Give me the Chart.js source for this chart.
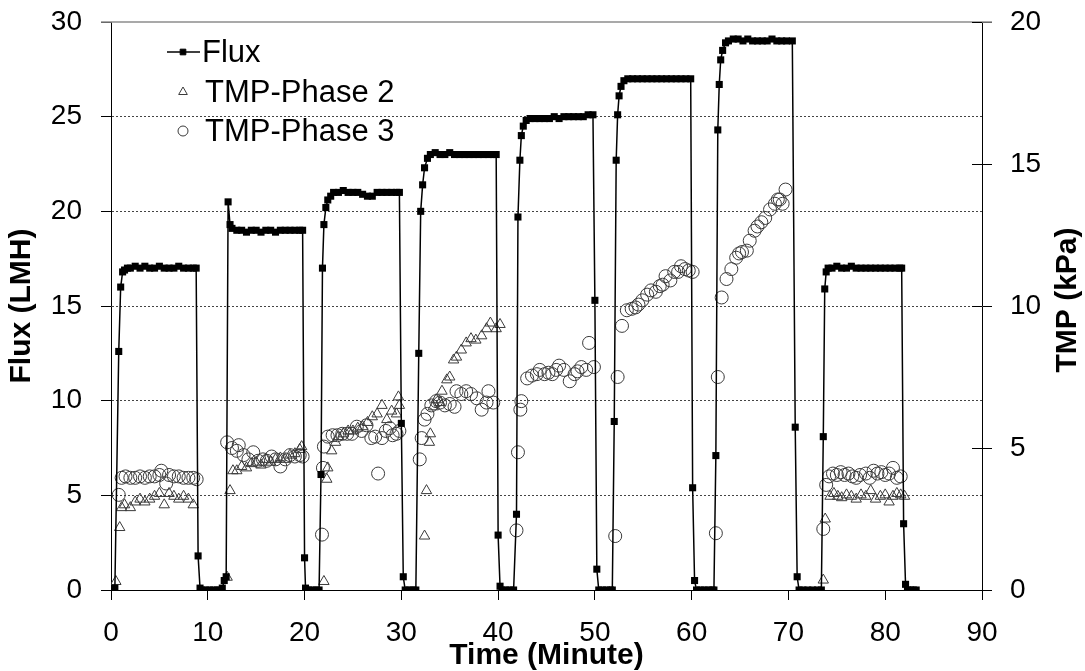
<!DOCTYPE html>
<html>
<head>
<meta charset="utf-8">
<script src="https://cdn.jsdelivr.net/npm/chart.js@4"></script>
<style>
body{margin:0;background:#fff;}
canvas{display:block;}
</style>
</head>
<body>
<canvas id="chart" width="1085" height="671"></canvas>
<script>
// Flux (LMH), cycle by cycle
const fluxTime = [
0,0.2,0.4, 0.8,1.0,1.2,1.4,1.7,2.0,2.5,3.0,3.5,4.0,4.5,5.0,5.5,6.0,6.5,7.0,7.5,8.0,8.5,8.8,
9.0,9.2,9.4,9.8,10.2,10.6,11.0,11.3,11.5,11.7,11.9,
12.1,12.3,12.5,13.0,13.5,14.0,14.5,15.0,15.5,16.0,16.5,17.0,17.5,18.0,18.5,19.0,19.5,19.8,
20.0,20.1,20.4,20.8,21.2,21.5,
21.7,21.85,22.0,22.2,22.4,22.7,23.0,23.5,24.0,24.5,25.0,25.5,26.0,26.5,27.0,27.5,28.0,28.5,29.0,29.5,29.8,
30.0,30.2,30.4,30.8,31.2,31.5,
31.8,32.0,32.2,32.4,32.7,33.0,33.5,34.0,34.5,35.0,35.5,36.0,36.5,37.0,37.5,38.0,38.5,39.0,39.5,39.8,
40.0,40.2,40.4,40.8,41.2,41.6,
41.9,42.05,42.25,42.4,42.6,42.9,43.3,43.8,44.3,44.8,45.3,45.8,46.3,46.8,47.3,47.8,48.3,48.8,49.3,49.8,
50.0,50.2,50.4,50.8,51.2,51.6,51.8,
52.0,52.2,52.35,52.5,52.7,53.0,53.4,53.9,54.4,54.9,55.4,55.9,56.4,56.9,57.4,57.9,58.4,58.9,59.4,59.9,
60.1,60.3,60.5,60.9,61.3,61.7,62.1,62.3,
62.5,62.7,62.85,63.0,63.2,63.5,63.8,64.3,64.8,65.3,65.8,66.3,66.8,67.3,67.8,68.3,68.8,69.3,69.8,70.4,
70.7,70.9,71.1,71.5,72.0,72.5,73.0,73.4,
73.6,73.75,73.9,74.1,74.5,75.0,75.5,76.0,76.5,77.0,77.5,78.0,78.5,79.0,79.5,80.0,80.5,81.0,81.5,81.7,
81.9,82.1,82.3,82.6,82.9,83.2
];
const fluxValue = [
0,0,0.1, 12.6,16.0,16.8,16.9,17.0,17.0,17.1,17.0,17.1,17.0,17.0,17.1,17.0,17.0,17.0,17.1,17.0,17.0,17.0,17.0,
1.8,0.1,0,0,0,0,0,0,0.1,0.5,0.7,
20.5,19.3,19.1,19.0,19.0,18.9,19.0,19.0,18.9,19.0,19.0,18.9,19.0,19.0,19.0,19.0,19.0,19.0,
1.7,0.1,0,0,0,0,
6.1,17.0,19.3,20.2,20.6,20.8,21.0,21.0,21.1,21.0,21.0,21.0,20.9,20.8,20.8,21.0,21.0,21.0,21.0,21.0,21.0,
8.8,0.7,0,0,0,0,
12.5,20.0,21.4,22.3,22.8,23.0,23.1,23.0,23.0,23.1,23.0,23.0,23.0,23.0,23.0,23.0,23.0,23.0,23.0,23.0,
2.9,0.2,0,0,0,0,
4.0,19.7,22.7,24.0,24.5,24.8,24.9,24.9,24.9,24.9,24.9,25.0,24.9,25.0,25.0,25.0,25.0,25.0,25.1,25.1,
15.3,1.1,0,0,0,0,0,
8.9,22.7,25.1,26.1,26.6,26.9,27.0,27.0,27.0,27.0,27.0,27.0,27.0,27.0,27.0,27.0,27.0,27.0,27.0,27.0,
5.4,0.5,0,0,0,0,0,0,
7.1,24.3,26.7,28.0,28.5,28.9,29.0,29.1,29.1,29.0,29.1,29.0,29.0,29.0,29.0,29.1,29.0,29.0,29.0,29.0,
8.6,0.7,0,0,0,0,0,0,
8.1,15.9,16.8,17.0,17.0,17.1,17.0,17.0,17.1,17.0,17.0,17.0,17.0,17.0,17.0,17.0,17.0,17.0,17.0,17.0,
3.5,0.3,0,0,0,0
];

// TMP phase 2 (kPa, right axis)
const tmp2Time = [
0.5,0.9,1.1,1.4,2.0,2.5,3.0,3.5,4.0,4.5,5.0,5.5,6.0,6.5,7.0,7.5,8.0,8.5,
12.0,12.3,12.6,13.0,13.5,14.0,14.5,15.0,15.5,16.0,16.5,17.0,17.5,18.0,18.5,19.0,19.5,19.7,
22.0,22.3,22.4,22.8,23.2,23.5,24.0,24.5,25.0,25.5,26.0,26.5,27.0,27.5,28.0,28.5,29.0,29.5,29.7,29.8,
32.4,32.6,32.9,33.0,33.3,33.6,34.0,34.2,34.7,35.0,35.4,35.7,36.2,36.7,37.2,37.7,38.3,38.8,39.2,39.8,40.2,
73.6,73.8,74.3,74.7,75.1,75.5,76.0,76.5,77.0,77.5,78.0,78.5,79.0,79.5,80.0,80.4,80.8,81.2,81.6,82.0
];
const tmp2Value = [
0.3,2.2,2.9,3.0,2.9,3.1,3.2,3.1,3.2,3.3,3.4,3.0,3.4,3.3,3.2,3.3,3.2,3.0,
0.45,3.5,4.2,4.2,4.35,4.3,4.45,4.5,4.4,4.6,4.5,4.6,4.65,4.6,4.75,4.8,4.95,5.05,
0.3,3.9,4.3,4.9,5.2,5.4,5.5,5.6,5.6,5.7,5.75,5.9,6.1,6.2,6.5,6.0,6.3,6.2,6.8,6.5,
1.9,3.5,5.2,5.5,6.45,6.7,6.6,7.0,7.4,7.5,8.1,8.2,8.45,8.7,8.85,8.8,8.95,9.2,9.4,9.2,9.35,
0.35,2.5,3.3,3.4,3.3,3.25,3.35,3.3,3.2,3.35,3.3,3.5,3.2,3.3,3.35,3.1,3.3,3.4,3.35,3.3
];

// TMP phase 3 (kPa, right axis)
const tmp3Time = [
0.8,1.1,1.5,2.0,2.5,3.0,3.5,4.0,4.5,5.0,5.2,5.7,6.0,6.5,7.0,7.5,8.0,8.5,8.85,
12.0,12.5,13.0,13.2,13.7,14.2,14.7,15.2,15.7,16.1,16.6,17.0,17.5,18.0,18.5,19.0,19.5,19.8,
21.8,21.9,22.0,22.4,22.9,23.4,23.9,24.4,24.9,25.4,25.9,26.4,26.9,27.3,27.6,28.0,28.4,28.8,29.1,29.5,29.8,
31.9,32.1,32.4,32.7,33.1,33.6,34.0,34.5,35.0,35.5,35.7,36.2,36.7,37.2,37.8,38.3,38.8,39.0,39.5,
41.9,42.05,42.3,42.4,43.0,43.5,44.0,44.3,44.8,45.2,45.6,46.0,46.3,46.8,47.4,47.9,48.2,48.6,49.1,49.4,49.9,
52.1,52.35,52.8,53.3,53.8,54.2,54.5,54.9,55.4,55.8,56.3,56.7,57.0,57.3,57.8,58.2,58.6,58.9,59.3,59.7,60.1,
62.5,62.7,63.1,63.6,64.1,64.6,64.9,65.2,65.7,66.0,66.5,66.8,67.2,67.6,68.1,68.6,68.9,69.1,69.4,69.7,
73.6,73.9,74.2,74.6,75.0,75.4,75.8,76.2,76.6,77.0,77.4,78.0,78.4,78.8,79.2,79.6,80.0,80.4,80.8,81.2,81.6
];
const tmp3Value = [
3.35,3.95,4.0,3.95,3.95,4.0,3.95,4.0,4.0,4.05,4.2,3.75,4.05,4.0,4.0,3.95,3.95,3.95,3.9,
5.2,5.0,4.9,5.1,4.75,4.6,4.85,4.55,4.6,4.55,4.7,4.6,4.35,4.6,4.75,4.7,4.75,4.7,
1.95,4.3,5.05,5.4,5.45,5.45,5.5,5.5,5.5,5.75,5.6,5.8,5.35,5.4,4.1,5.35,5.6,5.7,5.45,5.5,5.6,
4.6,5.35,6.0,6.2,6.5,6.65,6.6,6.5,6.55,6.45,7.0,6.9,7.0,6.9,6.75,6.35,6.6,7.0,6.6,
2.1,4.85,6.35,6.65,7.45,7.55,7.6,7.75,7.6,7.65,7.6,7.75,7.9,7.75,7.35,7.6,7.7,7.85,7.75,8.7,7.85,
1.9,7.5,9.3,9.85,9.9,9.95,10.05,10.2,10.4,10.55,10.5,10.7,10.75,11.05,10.9,11.2,11.2,11.4,11.3,11.25,11.2,
2.0,7.5,10.3,10.95,11.3,11.7,11.85,11.9,11.95,12.3,12.65,12.8,12.95,13.1,13.4,13.6,13.75,13.75,13.6,14.1,
2.15,3.7,4.0,4.1,4.05,4.15,4.05,4.1,4.0,3.95,4.05,4.1,3.95,4.2,4.1,4.15,4.05,4.1,4.3,3.95,4.0
];

const xTicks = [0,10,20,30,40,50,60,70,80,90];
const fluxTicks = [0,5,10,15,20,25,30];
const tmpTicks = [0,5,10,15,20];
const seriesNames = ["Flux","TMP-Phase 2","TMP-Phase 3"];

const toPoints = (xs, ys) => xs.map((x, i) => ({x: x, y: ys[i]}));

const FONT = "'Liberation Sans', Arial, sans-serif";

// fix the scale boxes so the plot area lands where the original one is
function fitVertical(w) {
  return scale => {
    scale.width = w;
    scale.paddingTop = 0;
    scale.paddingBottom = 0;
  };
}
function fitHorizontal(h) {
  return scale => {
    scale.height = h;
    scale.paddingLeft = 0;
    scale.paddingRight = 0;
  };
}

const extras = {
  id: "extras",
  afterDraw(chart) {
    const ctx = chart.ctx;
    const a = chart.chartArea;
    ctx.save();
    // top frame line
    ctx.strokeStyle = "#8c8c8c";
    ctx.lineWidth = 1.5;
    ctx.beginPath();
    ctx.moveTo(a.left - 10, a.top);
    ctx.lineTo(a.right + 10, a.top);
    ctx.stroke();
    // inner ticks on the right axis
    const y2 = chart.scales.y2;
    ctx.strokeStyle = "#000";
    ctx.lineWidth = 1;
    tmpTicks.forEach(v => {
      const py = Math.round(y2.getPixelForValue(v)) + 0.5;
      ctx.beginPath();
      ctx.moveTo(a.right - 10, py);
      ctx.lineTo(a.right, py);
      ctx.stroke();
    });
    // right axis title, reading bottom to top
    ctx.fillStyle = "#000";
    ctx.font = "bold 30px " + FONT;
    ctx.textAlign = "center";
    ctx.textBaseline = "middle";
    ctx.translate(1068, (a.top + a.bottom) / 2 - 6);
    ctx.rotate(-Math.PI / 2);
    ctx.fillText("TMP (kPa)", 0, 0);
    ctx.restore();

    // legend inside the plot
    ctx.save();
    const rows = [52, 92, 131];
    chart.data.datasets.forEach((ds, i) => {
      const y = rows[i];
      const mx = 183;
      if (ds.showLine) {
        ctx.strokeStyle = ds.borderColor;
        ctx.lineWidth = 1.5;
        ctx.beginPath();
        ctx.moveTo(167, y);
        ctx.lineTo(200, y);
        ctx.stroke();
      }
      ctx.strokeStyle = ds.pointBorderColor;
      ctx.fillStyle = ds.pointBackgroundColor;
      ctx.lineWidth = 1;
      Chart.helpers.drawPoint(ctx, {
        pointStyle: ds.pointStyle,
        radius: i === 0 ? 4 : 5,
        borderWidth: 1,
        rotation: 0
      }, mx, y);
      ctx.fillStyle = "#000";
      ctx.font = "31px " + FONT;
      ctx.textAlign = "left";
      ctx.textBaseline = "middle";
      ctx.fillText(ds.label, i === 0 ? 202 : 205, y + 1);
    });
    ctx.restore();
  }
};

new Chart(document.getElementById("chart"), {
  type: "scatter",
  data: {
    datasets: [
      {
        label: seriesNames[0],
        data: toPoints(fluxTime, fluxValue),
        yAxisID: "y",
        showLine: true,
        borderColor: "#000",
        borderWidth: 1.5,
        backgroundColor: "#000",
        pointStyle: "rect",
        pointRadius: 5,
        pointBackgroundColor: "#000",
        pointBorderColor: "#000",
        pointBorderWidth: 0,
        tension: 0
      },
      {
        label: seriesNames[1],
        data: toPoints(tmp2Time, tmp2Value),
        yAxisID: "y2",
        showLine: false,
        borderColor: "#3a3a3a",
        backgroundColor: "rgba(0,0,0,0)",
        pointStyle: "triangle",
        pointRadius: 6,
        pointBackgroundColor: "rgba(0,0,0,0)",
        pointBorderColor: "#3a3a3a",
        pointBorderWidth: 1
      },
      {
        label: seriesNames[2],
        data: toPoints(tmp3Time, tmp3Value),
        yAxisID: "y2",
        showLine: false,
        borderColor: "#3a3a3a",
        backgroundColor: "rgba(0,0,0,0)",
        pointStyle: "circle",
        pointRadius: 6.5,
        pointBackgroundColor: "rgba(0,0,0,0)",
        pointBorderColor: "#3a3a3a",
        pointBorderWidth: 1
      }
    ]
  },
  options: {
    responsive: false,
    animation: false,
    devicePixelRatio: 1,
    layout: { padding: { top: 22, left: 0, right: 0, bottom: 0 } },
    plugins: { legend: { display: false }, tooltip: { enabled: false } },
    scales: {
      x: {
        type: "linear",
        min: 0, max: 90,
        afterFit: fitHorizontal(81),
        afterBuildTicks: scale => { scale.ticks = xTicks.map(v => ({value: v})); },
        border: { display: true, color: "#000", width: 1 },
        grid: { drawOnChartArea: false, drawTicks: true, tickLength: 10, tickColor: "#000" },
        ticks: { color: "#000", font: { family: FONT, size: 28 }, padding: 16, maxRotation: 0 },
        title: { display: true, text: "Time (Minute)", color: "#000",
                 font: { family: FONT, size: 30, weight: "bold", lineHeight: 1 }, padding: { top: 0, bottom: 0 } }
      },
      y: {
        position: "left",
        min: 0, max: 30,
        afterFit: fitVertical(111),
        afterBuildTicks: scale => { scale.ticks = fluxTicks.map(v => ({value: v})); },
        border: { display: true, color: "#000", width: 1, dash: [2, 2] },
        grid: {
          drawOnChartArea: true,
          color: ctx => (ctx.tick && (ctx.tick.value === 0 || ctx.tick.value === 30)) ? "rgba(0,0,0,0)" : "#444",
          lineWidth: 1,
          tickLength: 10, tickColor: "#000", tickBorderDash: []
        },
        ticks: { color: "#000", font: { family: FONT, size: 28 }, padding: 19 },
        title: { display: true, text: "Flux (LMH)", color: "#000",
                 font: { family: FONT, size: 30, weight: "bold", lineHeight: 1 }, padding: { top: 7, bottom: 0 } }
      },
      y2: {
        position: "right",
        min: 0, max: 20,
        afterFit: fitVertical(103),
        afterBuildTicks: scale => { scale.ticks = tmpTicks.map(v => ({value: v})); },
        border: { display: true, color: "#000", width: 1 },
        grid: { drawOnChartArea: false, drawTicks: true, tickLength: 10, tickColor: "#000" },
        ticks: { color: "#000", font: { family: FONT, size: 28 }, padding: 18 }
      }
    }
  },
  plugins: [extras]
});
</script>
</body>
</html>
